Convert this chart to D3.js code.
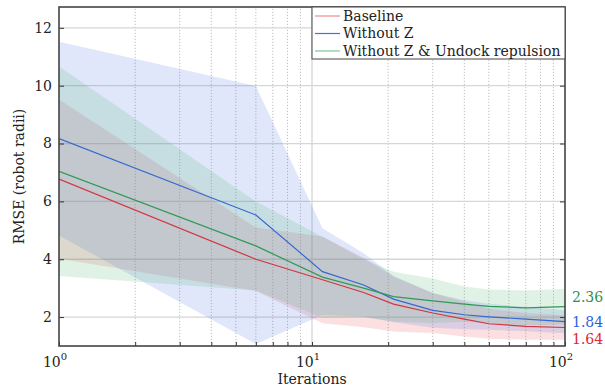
<!DOCTYPE html>
<html>
<head>
<meta charset="utf-8">
<script src="https://cdn.jsdelivr.net/npm/d3@7"></script>
<style>
  body { margin: 0; background: #fff; }
</style>
</head>
<body>
<script>
// iterations sampled
var iterations = [1, 6, 11, 16, 21, 30, 40, 50, 70, 100];

// mean RMSE per series
var baselineMean = [6.77, 4.0, 3.29, 2.85, 2.45, 2.14, 1.93, 1.77, 1.68, 1.64];
var noZMean      = [8.17, 5.53, 3.57, 3.11, 2.62, 2.23, 2.08, 2.01, 1.93, 1.84];
var noZUndMean   = [7.04, 4.46, 3.38, 3.0, 2.71, 2.56, 2.45, 2.37, 2.32, 2.36];

// spread (std) per series
var baselineSd = [2.75, 1.1, 1.5, 1.2, 0.95, 0.69, 0.6, 0.52, 0.46, 0.42];
var noZSd      = [3.35, 4.46, 1.5, 1.1, 0.8, 0.6, 0.5, 0.45, 0.42, 0.4];
var noZUndSd   = [3.62, 1.54, 1.4, 1.0, 0.86, 0.77, 0.61, 0.58, 0.6, 0.62];

var seriesNames = ["Baseline", "Without Z", "Without Z & Undock repulsion"];
var finalLabels = ["1.64", "1.84", "2.36"];
var yTicks = [2, 4, 6, 8, 10, 12];

var width = 605, height = 388;
var margin = {left: 59, right: 40, top: 7, bottom: 42};
var serif = "DejaVu Serif";

var svg = d3.select("body").append("svg")
    .attr("width", width)
    .attr("height", height)
    .style("font-family", serif);

var x = d3.scaleLog().domain([1, 100]).range([margin.left, width - margin.right]);
var y = d3.scaleLinear().domain([1, 12.72]).range([height - margin.bottom, margin.top]);

var series = [
  {name: seriesNames[0], mean: baselineMean, sd: baselineSd, line: "#d2353f", fill: "rgb(235,70,80)", fillOp: 0.17, legend: "#ee8a8f", label: finalLabels[0], labelColor: "#e0282e"},
  {name: seriesNames[1], mean: noZMean, sd: noZSd, line: "#3668d0", fill: "rgb(70,110,230)", fillOp: 0.17, legend: "#4a70d0", label: finalLabels[1], labelColor: "#2f5fe0"},
  {name: seriesNames[2], mean: noZUndMean, sd: noZUndSd, line: "#2f9a55", fill: "rgb(70,175,105)", fillOp: 0.17, legend: "#7cc495", label: finalLabels[2], labelColor: "#2e9050"}
];

var x0 = x.range()[0], x1 = x.range()[1], y0 = y.range()[0], y1 = y.range()[1];

// grid
var grid = svg.append("g");
var minor = [];
[1, 10].forEach(function(d) { for (var k = 2; k <= 9; k++) minor.push(d * k); });
grid.selectAll(".minor").data(minor).enter().append("line")
    .attr("x1", function(d) { return x(d); }).attr("x2", function(d) { return x(d); })
    .attr("y1", y0).attr("y2", y1)
    .attr("stroke", "#b8b8b8").attr("stroke-width", 0.9)
    .attr("stroke-dasharray", "1.2,1.8");
grid.selectAll(".major").data([10]).enter().append("line")
    .attr("x1", function(d) { return x(d); }).attr("x2", function(d) { return x(d); })
    .attr("y1", y0).attr("y2", y1)
    .attr("stroke", "#d6d6d6").attr("stroke-width", 1.3);
grid.selectAll(".hgrid").data(yTicks).enter().append("line")
    .attr("x1", x0).attr("x2", x1)
    .attr("y1", function(d) { return y(d); }).attr("y2", function(d) { return y(d); })
    .attr("stroke", "#d6d6d6").attr("stroke-width", 1.3);

// bands
var area = d3.area()
    .x(function(d) { return x(d.it); })
    .y0(function(d) { return y(d.m - d.s); })
    .y1(function(d) { return y(d.m + d.s); });
var line = d3.line()
    .x(function(d) { return x(d.it); })
    .y(function(d) { return y(d.m); });

var clip = svg.append("clipPath").attr("id", "clip").append("rect")
    .attr("x", x0).attr("y", y1).attr("width", x1 - x0).attr("height", y0 - y1);
var plot = svg.append("g").attr("clip-path", "url(#clip)");

series.forEach(function(s) {
  s.pts = iterations.map(function(it, i) { return {it: it, m: s.mean[i], s: s.sd[i]}; });
  plot.append("path").datum(s.pts)
      .attr("d", area)
      .attr("fill", s.fill).attr("fill-opacity", s.fillOp);
});
series.forEach(function(s) {
  plot.append("path").datum(s.pts)
      .attr("d", line)
      .attr("fill", "none").attr("stroke", s.line).attr("stroke-width", 1.2);
});

// axes
var tickFmt = function() { return ""; };
svg.append("g").attr("transform", "translate(0," + y0 + ")")
    .call(d3.axisBottom(x).tickValues([1,2,3,4,5,6,7,8,9,10,20,30,40,50,60,70,80,90,100]).tickSizeInner(-4).tickSizeOuter(0).tickFormat(tickFmt))
    .call(function(g) { g.selectAll("line").attr("stroke", "#333"); g.select(".domain").remove(); });
svg.append("g").attr("transform", "translate(" + x0 + ",0)")
    .call(d3.axisLeft(y).tickValues(yTicks).tickSizeInner(-5).tickSizeOuter(0).tickFormat(tickFmt))
    .call(function(g) { g.selectAll("line").attr("stroke", "#333"); g.select(".domain").remove(); });
svg.append("g").attr("transform", "translate(" + x1 + ",0)")
    .call(d3.axisRight(y).tickValues(yTicks).tickSizeInner(-5).tickSizeOuter(0).tickFormat(tickFmt))
    .call(function(g) { g.selectAll("line").attr("stroke", "#333"); g.select(".domain").remove(); });

// frame
svg.append("rect")
    .attr("x", x0).attr("y", y1).attr("width", x1 - x0).attr("height", y0 - y1)
    .attr("fill", "none").attr("stroke", "#444").attr("stroke-width", 1.6);

// y tick labels
svg.selectAll(".ylab").data(yTicks).enter().append("text")
    .attr("x", x0 - 7).attr("y", function(d) { return y(d); })
    .attr("dy", "0.35em").attr("text-anchor", "end")
    .attr("fill", "#222").style("font-size", "14px")
    .text(function(d) { return d; });

// x tick labels (powers of ten)
svg.selectAll(".xlab").data([1, 10, 100]).enter().append("text")
    .attr("x", function(d) { return x(d) - 4; }).attr("y", y0 + 21)
    .attr("text-anchor", "middle")
    .attr("fill", "#222").style("font-size", "14px")
    .each(function(d) {
      var t = d3.select(this);
      t.append("tspan").text("10");
      t.append("tspan").attr("dy", -7).style("font-size", "10px").text(Math.round(Math.log10(d)));
    });

svg.append("text")
    .attr("x", (x0 + x1) / 2).attr("y", height - 4)
    .attr("text-anchor", "middle").attr("fill", "#222").style("font-size", "14px")
    .text("Iterations");
svg.append("text")
    .attr("transform", "translate(24," + ((y0 + y1) / 2) + ") rotate(-90)")
    .attr("text-anchor", "middle").attr("fill", "#222").style("font-size", "14px")
    .text("RMSE (robot radii)");

// final value labels
var labelY = [339, 322.5, 297.5];
series.forEach(function(s, i) {
  svg.append("text")
      .attr("x", x1 + 7).attr("y", labelY[i])
      .attr("dy", "0.35em")
      .style("font-size", "14px").attr("fill", s.labelColor)
      .text(s.label);
});

// legend
var lg = svg.append("g");
var lgX = 312, lgW = x1 - lgX;
lg.append("rect")
    .attr("x", lgX).attr("y", y1).attr("width", lgW).attr("height", 52)
    .attr("fill", "#fff").attr("stroke", "#444").attr("stroke-width", 1);
series.forEach(function(s, i) {
  var yy = y1 + 9 + i * 17.5;
  lg.append("line").attr("x1", lgX + 3).attr("x2", lgX + 28)
      .attr("y1", yy).attr("y2", yy)
      .attr("stroke", s.legend).attr("stroke-width", 1.2);
  lg.append("text").attr("x", lgX + 31).attr("y", yy).attr("dy", "0.35em")
      .attr("fill", "#222").style("font-size", "14px")
      .text(s.name);
});
</script>
</body>
</html>
